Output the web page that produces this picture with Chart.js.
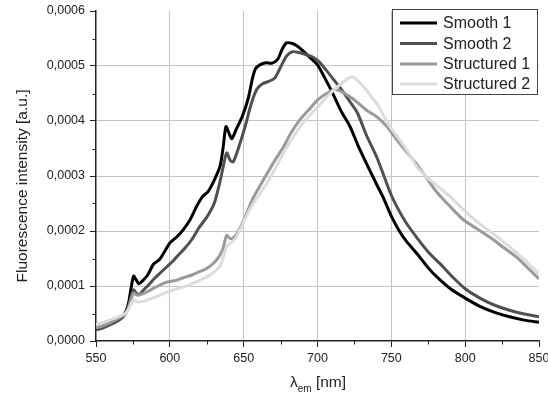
<!DOCTYPE html>
<html><head><meta charset="utf-8">
<script src="https://cdn.jsdelivr.net/npm/chart.js@4.4.0/dist/chart.umd.min.js"></script>
<style>html,body{margin:0;padding:0;background:#fff;}canvas{display:block;}</style>
</head><body>
<canvas id="c" width="548" height="397"></canvas>
<script>
const seriesLabels = ['Smooth 1', 'Smooth 2', 'Structured 1', 'Structured 2'];
const seriesColors = ['#000000', '#505050', '#9a9a9a', '#dcdcdc'];
const xTickValues = [550, 600, 650, 700, 750, 800, 850];
const xTickLabels = ['550', '600', '650', '700', '750', '800', '850'];
const yTickValues = [0, 0.0001, 0.0002, 0.0003, 0.0004, 0.0005, 0.0006];
const yTickLabels = ['0,0000', '0,0001', '0,0002', '0,0003', '0,0004', '0,0005', '0,0006'];
const xTitleMain = 'λ';
const xTitleSub = 'em';
const xTitleUnit = ' [nm]';
const yTitle = 'Fluorescence intensity [a.u.]';

const smooth1Wavelength = [550,555,560,565,568,570,572,574,575.5,577,579,581,585,589,593,597,600,605,609,614,618,622,626,630,634,636,638,640,642,645,649,653,656,658,661,665,669,673,676,679,683,686,690,695,700,705,710,716,722,728,734,740,745,750,755,760,767,775,781,790,800,810,820,830,840,850];
const smooth1Intensity = [0.000022,0.000027,0.000033,0.000040,0.000046,0.000052,0.000068,0.000100,0.000118,0.000112,0.000104,0.000108,0.000120,0.000140,0.000148,0.000165,0.000178,0.000190,0.000202,0.000222,0.000244,0.000262,0.000272,0.000292,0.000318,0.000350,0.000390,0.000378,0.000368,0.000385,0.000408,0.000440,0.000478,0.000495,0.000502,0.000506,0.000505,0.000512,0.000530,0.000542,0.000541,0.000537,0.000528,0.000515,0.000502,0.000478,0.000452,0.000418,0.000390,0.000352,0.000318,0.000285,0.000258,0.000227,0.000202,0.000182,0.000160,0.000133,0.000116,0.000095,0.000078,0.000063,0.000052,0.000044,0.000038,0.000034];

const smooth2Wavelength = [550,555,560,565,568,570,572,574,575.5,577,579,582,586,590,594,598,602,606,610,615,620,625,630,634,636,638.5,641,643,647,651,655,659,663,667,671,675,679,683,688,693,697,701,706,711,716,722,727,733,740,745,750,755,760,767,775,785,792,800,810,820,830,840,850];
const smooth2Intensity = [0.000020,0.000024,0.000030,0.000037,0.000043,0.000050,0.000062,0.000082,0.000093,0.000088,0.000084,0.000092,0.000103,0.000115,0.000125,0.000135,0.000145,0.000157,0.000168,0.000185,0.000207,0.000225,0.000250,0.000290,0.000315,0.000342,0.000328,0.000326,0.000355,0.000390,0.000430,0.000458,0.000468,0.000472,0.000478,0.000498,0.000518,0.000526,0.000524,0.000520,0.000516,0.000508,0.000492,0.000475,0.000458,0.000435,0.000415,0.000375,0.000335,0.000300,0.000265,0.000238,0.000215,0.000189,0.000162,0.000135,0.000115,0.000095,0.000078,0.000065,0.000056,0.000049,0.000044];

const structured1Wavelength = [550,555,560,565,568,570,572,574,575.5,578,582,587,592,598,604,609,615,620,625,629,633,636,638.5,641,644,648,652,656,661,666,671,677,682,688,694,700,705,711,716,721,727,733,740,747,754,760,767,774,781,790,799,808,817,826,835,842,850];
const structured1Intensity = [0.000024,0.000028,0.000034,0.000041,0.000046,0.000050,0.000060,0.000078,0.000087,0.000083,0.000086,0.000093,0.000100,0.000107,0.000110,0.000115,0.000120,0.000126,0.000132,0.000140,0.000152,0.000168,0.000192,0.000186,0.000190,0.000208,0.000232,0.000258,0.000282,0.000305,0.000328,0.000353,0.000378,0.000402,0.000420,0.000438,0.000448,0.000457,0.000454,0.000446,0.000434,0.000420,0.000408,0.000390,0.000365,0.000345,0.000322,0.000296,0.000270,0.000244,0.000220,0.000204,0.000188,0.000170,0.000152,0.000134,0.000113];

const structured2Wavelength = [550,555,560,565,570,572,574,575.5,578,582,588,593,598,604,610,615,620,626,631,634,636,638.5,641,644,648,652,656,661,666,671,677,682,688,694,700,705,711,717,721,724,727,731,736,741,749,755,761,767,774,781,790,801,810,819,827,835,842,850];
const structured2Intensity = [0.000030,0.000034,0.000039,0.000044,0.000050,0.000058,0.000068,0.000075,0.000071,0.000072,0.000078,0.000083,0.000089,0.000094,0.000099,0.000104,0.000110,0.000118,0.000128,0.000136,0.000150,0.000172,0.000178,0.000185,0.000205,0.000228,0.000248,0.000268,0.000288,0.000312,0.000342,0.000364,0.000389,0.000408,0.000425,0.000440,0.000456,0.000470,0.000478,0.000480,0.000474,0.000463,0.000446,0.000428,0.000390,0.000368,0.000345,0.000318,0.000298,0.000282,0.000262,0.000233,0.000213,0.000195,0.000178,0.000160,0.000143,0.000122];

const FONT = '"Liberation Sans", Arial, Helvetica, sans-serif';
const wavelengths = [smooth1Wavelength, smooth2Wavelength, structured1Wavelength, structured2Wavelength];
const intensities = [smooth1Intensity, smooth2Intensity, structured1Intensity, structured2Intensity];

const datasets = seriesLabels.map((label, i) => ({
  label,
  data: wavelengths[i].map((w, j) => ({ x: w, y: intensities[i][j] })),
  borderColor: seriesColors[i],
  backgroundColor: seriesColors[i],
  borderWidth: 3,
  pointRadius: 0,
  tension: 0.25,
  fill: false,
  order: 3 - i
}));

const decor = {
  id: 'decor',
  afterDraw(chart) {
    const ctx = chart.ctx, xs = chart.scales.x, ys = chart.scales.y, a = chart.chartArea;
    ctx.save();
    ctx.strokeStyle = '#222'; ctx.lineWidth = 1;
    for (let k = 0; k < xTickValues.length - 1; k++) {
      const v = (xTickValues[k] + xTickValues[k + 1]) / 2;
      const px = Math.round(xs.getPixelForValue(v)) + 0.5;
      ctx.beginPath(); ctx.moveTo(px, a.bottom); ctx.lineTo(px, a.bottom + 3.5); ctx.stroke();
    }
    for (let k = 0; k < yTickValues.length - 1; k++) {
      const v = (yTickValues[k] + yTickValues[k + 1]) / 2;
      const py = Math.round(ys.getPixelForValue(v)) + 0.5;
      ctx.beginPath(); ctx.moveTo(a.left, py); ctx.lineTo(a.left - 3.5, py); ctx.stroke();
    }
    ctx.fillStyle = '#222';
    ctx.font = '15.5px ' + FONT;
    ctx.save();
    ctx.translate(27, 186);
    ctx.rotate(-Math.PI / 2);
    ctx.textAlign = 'center'; ctx.textBaseline = 'alphabetic';
    ctx.fillText(yTitle, 0, 0);
    ctx.restore();
    const mainFont = '15.5px ' + FONT, subFont = '10px ' + FONT;
    ctx.font = mainFont; const w1 = ctx.measureText(xTitleMain).width; const w3 = ctx.measureText(xTitleUnit).width;
    ctx.font = subFont; const w2 = ctx.measureText(xTitleSub).width;
    let x0 = 318 - (w1 + w2 + w3) / 2;
    ctx.textAlign = 'left'; ctx.textBaseline = 'alphabetic';
    ctx.font = mainFont; ctx.fillText(xTitleMain, x0, 387);
    ctx.font = subFont; ctx.fillText(xTitleSub, x0 + w1, 392);
    ctx.font = mainFont; ctx.fillText(xTitleUnit, x0 + w1 + w2, 387);
    const lx = 392.5, ly = 9.5, lw = 145, lh = 85;
    ctx.fillStyle = '#fff'; ctx.fillRect(lx, ly, lw, lh);
    ctx.strokeStyle = '#444'; ctx.lineWidth = 1; ctx.strokeRect(lx, ly, lw, lh);
    const rowsY = [23, 43.5, 64, 84];
    chart.data.datasets.forEach((ds, i) => {
      ctx.strokeStyle = ds.borderColor; ctx.lineWidth = 3;
      ctx.beginPath(); ctx.moveTo(400, rowsY[i]); ctx.lineTo(437, rowsY[i]); ctx.stroke();
      ctx.fillStyle = '#222'; ctx.font = '16px ' + FONT; ctx.textBaseline = 'middle';
      ctx.fillText(ds.label, 443, rowsY[i] + 1);
    });
    ctx.restore();
  }
};

const gridColor = (ctx, lo, hi) => {
  if (!ctx.tick) return 'rgba(0,0,0,0)';
  const v = ctx.tick.value;
  return (Math.abs(v - lo) < 1e-12 || Math.abs(v - hi) < 1e-12) ? 'rgba(0,0,0,0)' : '#c4c4c4';
};

new Chart(document.getElementById('c'), {
  type: 'line',
  data: { datasets },
  options: {
    responsive: false,
    animation: false,
    devicePixelRatio: 1,
    layout: { padding: { left: 0, right: 9, top: 11, bottom: 0 } },
    plugins: { legend: { display: false }, tooltip: { enabled: false } },
    scales: {
      x: {
        type: 'linear', min: 550, max: 850,
        afterBuildTicks: (s) => { s.ticks = xTickValues.map(v => ({ value: v })); },
        afterFit: (s) => { s.height = 56; s.paddingRight = 0; s.paddingLeft = 0; },
        ticks: {
          callback: (v) => { const i = xTickValues.indexOf(v); return i >= 0 ? xTickLabels[i] : ''; },
          font: { family: FONT, size: 12.5 }, color: '#222', padding: 4, maxRotation: 0, autoSkip: false
        },
        grid: {
          color: (c) => gridColor(c, 550, 850), borderDash: [2, 2], lineWidth: 1,
          drawTicks: true, tickLength: 6, tickColor: '#222', tickWidth: 1
        },
        border: { color: '#222', width: 1.5 }
      },
      y: {
        type: 'linear', min: 0, max: 0.0006,
        afterBuildTicks: (s) => { s.ticks = yTickValues.map(v => ({ value: v })); },
        afterFit: (s) => { s.width = 96; s.paddingTop = 0; s.paddingBottom = 0; },
        ticks: {
          callback: (v) => { const i = yTickValues.findIndex(t => Math.abs(t - v) < 1e-12); return i >= 0 ? yTickLabels[i] : ''; },
          font: { family: FONT, size: 12.5 }, color: '#222', padding: 5, autoSkip: false
        },
        grid: {
          color: (c) => gridColor(c, 0, 0.0006), borderDash: [2, 2], lineWidth: 1,
          drawTicks: true, tickLength: 6, tickColor: '#222', tickWidth: 1
        },
        border: { color: '#222', width: 1.5 }
      }
    }
  },
  plugins: [decor]
});
</script>
</body></html>
